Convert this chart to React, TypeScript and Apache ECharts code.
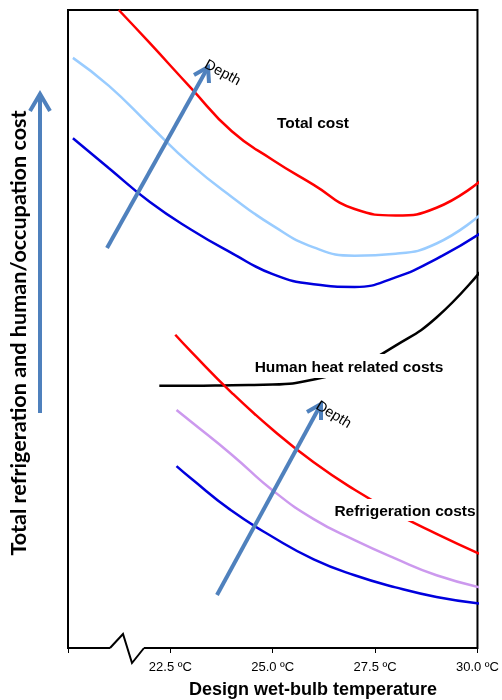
import React, { useEffect, useRef } from "react";
import * as echarts from "echarts";

// Design wet-bulb temperature (ºC) and relative cost (arbitrary units)
const xTicks = [20, 22.5, 25, 27.5, 30];

const totalShallowX = [21.24, 22, 23, 24, 25, 26, 27, 28, 29, 30.07];
const totalShallowY = [100.0, 94.8, 87.8, 81.0, 76.5, 72.6, 68.8, 67.8, 69.0, 73.2];

const totalMidX = [20.12, 21, 22, 23, 24, 25, 26, 27, 28, 29, 30.07];
const totalMidY = [92.5, 88.1, 81.9, 75.8, 70.7, 66.2, 62.8, 61.5, 61.8, 63.4, 67.9];

const totalDeepX = [20.12, 21, 22, 23, 24, 25, 26, 27, 28, 29, 30.07];
const totalDeepY = [79.9, 75.2, 69.9, 65.6, 61.9, 58.6, 57.0, 56.6, 58.1, 61.0, 65.0];

const humanX = [22.23, 23, 24, 25, 26, 27, 28, 29, 30.12];
const humanY = [41.1, 41.1, 41.2, 41.3, 42.1, 44.0, 47.4, 51.8, 59.4];

const refShallowX = [22.62, 23, 24, 25, 26, 27, 28, 29, 30.07];
const refShallowY = [49.1, 46.5, 40.0, 34.2, 29.1, 24.8, 21.1, 17.9, 14.7];

const refMidX = [22.65, 23, 24, 25, 26, 27, 28, 29, 30.12];
const refMidY = [37.3, 35.5, 30.3, 24.7, 20.2, 16.9, 14.0, 11.4, 9.4];

const refDeepX = [22.65, 23, 24, 25, 26, 27, 28, 29, 30.12];
const refDeepY = [28.5, 26.6, 21.5, 17.4, 13.9, 11.4, 9.5, 8.0, 6.9];

const zip = (xs: number[], ys: number[]) => xs.map((x, i) => [x, ys[i]]);

const ARROW = "#4F81BD";
const LABEL_FONT = "bold 15.5px 'Liberation Sans', Arial, sans-serif";

export default function App() {
  const ref = useRef<HTMLDivElement>(null);
  useEffect(() => {
    if (!ref.current) return;
    const chart = echarts.init(ref.current, null, { renderer: "svg" });
    const line = (name: string, xs: number[], ys: number[], color: string) => ({
      name,
      type: "line",
      data: zip(xs, ys),
      smooth: 0.5,
      symbol: "none",
      clip: false,
      lineStyle: { color, width: 2.5 },
      z: 2,
    });
    const Z = 100;
    const label = (text: string, x: number, y: number, bg: boolean, padding: number[] = [0, 0]) => ({
      type: "text",
      z: Z,
      x,
      y,
      style: {
        text,
        fill: "#000",
        font: LABEL_FONT,
        align: "center",
        verticalAlign: "middle",
        backgroundColor: bg ? "#fff" : undefined,
        padding,
      },
    });
    const depth = (x: number, y: number, rot: number) => ({
      type: "text",
      z: Z,
      x,
      y,
      rotation: rot,
      style: {
        text: "Depth",
        fill: "#000",
        font: "14.5px 'Liberation Sans', Arial, sans-serif",
        align: "center",
        verticalAlign: "middle",
      },
    });
    chart.setOption({
      animation: false,
      grid: {
        left: 68,
        right: 22,
        top: 10,
        bottom: 52,
        show: true,
        borderColor: "#000",
        borderWidth: 2,
        backgroundColor: "transparent",
      },
      xAxis: {
        type: "value",
        min: 20,
        max: 30,
        interval: 2.5,
        axisLine: { show: false },
        splitLine: { show: false },
        axisTick: { show: true, length: 5, lineStyle: { color: "#000", width: 1 } },
        axisLabel: {
          margin: 12,
          color: "#000",
          fontFamily: "Liberation Sans, Arial, sans-serif",
          fontSize: 13,
          formatter: (v: number) => (v === xTicks[0] ? "" : v.toFixed(1) + " ºC"),
        },
      },
      yAxis: { type: "value", min: 0, max: 100, show: false },
      series: [
        line("Total cost (shallow)", totalShallowX, totalShallowY, "#FF0000"),
        line("Total cost (mid)", totalMidX, totalMidY, "#99CCFF"),
        line("Total cost (deep)", totalDeepX, totalDeepY, "#0000DD"),
        line("Human heat related costs", humanX, humanY, "#000000"),
        line("Refrigeration (shallow)", refShallowX, refShallowY, "#FF0000"),
        line("Refrigeration (mid)", refMidX, refMidY, "#CC99EE"),
        line("Refrigeration (deep)", refDeepX, refDeepY, "#0000DD"),
      ],
      graphic: [
        // axis break
        { type: "rect", z: Z, shape: { x: 110, y: 644, width: 34, height: 8 }, style: { fill: "#fff" } },
        {
          type: "polyline",
          z: Z,
          shape: { points: [[110, 648], [123, 634], [132, 663], [144, 648]] },
          style: { stroke: "#000", lineWidth: 2, fill: "none" },
        },
        // left vertical arrow
        { type: "line", z: Z, shape: { x1: 40, y1: 413, x2: 40, y2: 95 }, style: { stroke: ARROW, lineWidth: 4 } },
        {
          type: "polyline",
          z: Z,
          shape: { points: [[30, 111], [40, 94], [50, 111]] },
          style: { stroke: ARROW, lineWidth: 4, fill: "none" },
        },
        // depth arrow (total)
        { type: "line", z: Z, shape: { x1: 107, y1: 248, x2: 207, y2: 69 }, style: { stroke: ARROW, lineWidth: 4 } },
        {
          type: "polyline",
          z: Z,
          shape: { points: [[194, 75], [208, 67], [209, 83]] },
          style: { stroke: ARROW, lineWidth: 4, fill: "none" },
        },
        // depth arrow (refrigeration)
        { type: "line", z: Z, shape: { x1: 217, y1: 595, x2: 320, y2: 406 }, style: { stroke: ARROW, lineWidth: 4 } },
        {
          type: "polyline",
          z: Z,
          shape: { points: [[307, 412], [321, 404], [321, 420]] },
          style: { stroke: ARROW, lineWidth: 4, fill: "none" },
        },
        depth(223, 72, -0.5),
        depth(334, 414, -0.55),
        label("Total cost", 313, 122, false),
        label("Human heat related costs", 349, 366, true, [4, 3]),
        label("Refrigeration costs", 405, 510, true, [3, 0]),
        {
          type: "text",
          z: Z,
          x: 18,
          y: 333,
          rotation: Math.PI / 2,
          style: {
            text: "Total refrigeration and human/occupation cost",
            fill: "#000",
            font: "bold 21.6px Lato, sans-serif",
            align: "center",
            verticalAlign: "middle",
          },
        },
        {
          type: "text",
          z: Z,
          x: 313,
          y: 689,
          style: {
            text: "Design wet-bulb temperature",
            fill: "#000",
            font: "bold 18px 'Liberation Sans', Arial, sans-serif",
            align: "center",
            verticalAlign: "middle",
          },
        },
      ],
    });
    return () => chart.dispose();
  }, []);
  return <div ref={ref} style={{ position: "fixed", left: 0, top: 0, width: 502, height: 700 }} />;
}
